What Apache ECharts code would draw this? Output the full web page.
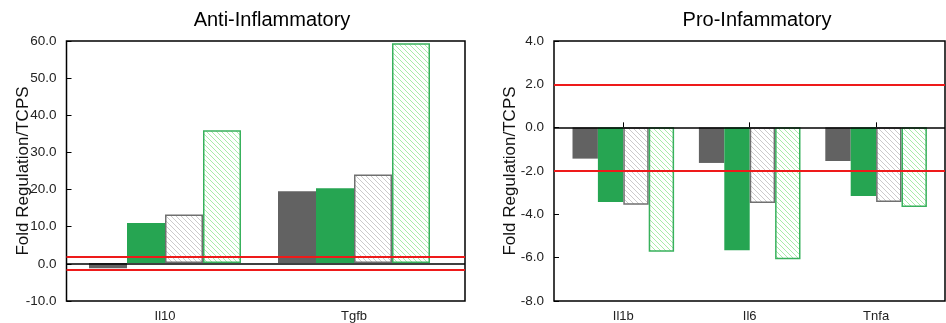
<!DOCTYPE html>
<html>
<head>
<meta charset="utf-8">
<script src="https://cdn.jsdelivr.net/npm/echarts@6/dist/echarts.min.js"></script>
<style>
  html, body { margin: 0; padding: 0; background: #fff; }
  #chart { width: 946px; height: 323px; }
</style>
</head>
<body>
<div id="chart"></div>
<script>
// Anti-inflammatory genes
const antiCategories = ['Il10', 'Tgfb'];
const antiDarkGrey   = [-1.4, 19.4];
const antiGreen      = [10.8, 20.2];
const antiGreyHatch  = [13.1, 23.9];
const antiGreenHatch = [35.9, 59.4];
const antiThresholds = [2.0, -1.6];

// Pro-inflammatory genes
const proCategories = ['Il1b', 'Il6', 'Tnfa'];
const proDarkGrey   = [-1.45, -1.65, -1.56];
const proGreen      = [-3.46, -5.69, -3.18];
const proGreyHatch  = [-3.59, -3.51, -3.46];
const proGreenHatch = [-5.77, -6.11, -3.69];
const proThresholds = [2.0, -2.0];

// Axis ranges and titles
const antiAxis = { min: -10, max: 60, step: 10 };
const proAxis  = { min: -8, max: 4, step: 2 };
const titles = ['Anti-Inflammatory', 'Pro-Infammatory'];
const yName = 'Fold Regulation/TCPS';

const FONT = '"Liberation Sans", Arial, sans-serif';

// Diagonal hatch fill ("\" direction) as a repeating canvas pattern
function hatch(lineColor, size, width) {
  const c = document.createElement('canvas');
  c.width = size; c.height = size;
  const g = c.getContext('2d');
  g.fillStyle = '#ffffff';
  g.fillRect(0, 0, size, size);
  g.strokeStyle = lineColor;
  g.lineWidth = width;
  g.beginPath();
  for (let k = -1; k <= 1; k++) {
    g.moveTo(k * size, 0);
    g.lineTo(k * size + size, size);
  }
  g.stroke();
  return { image: c, repeat: 'repeat' };
}

const styles = [
  { color: '#626262' },
  { color: '#26a552' },
  { color: hatch('#cbcbcb', 5, 1), borderColor: '#707070', borderWidth: 1.5 },
  { color: hatch('#a8eca9', 5, 1), borderColor: '#38b15c', borderWidth: 1.5 }
];

const chart = echarts.init(document.getElementById('chart'));

function frameY(gridIndex, r, gap) {
  return {
    gridIndex, type: 'value', min: r.min, max: r.max, interval: r.step,
    axisLine: { show: false },
    axisTick: { show: true, inside: true, length: 5, lineStyle: { color: '#000', width: 1 } },
    axisLabel: { color: '#222', fontSize: 13.5, fontFamily: FONT, margin: 10,
                 formatter: v => v.toFixed(1) },
    splitLine: { show: false },
    name: yName, nameLocation: 'middle', nameGap: gap, nameMoveOverlap: false,
    nameTextStyle: { fontSize: 17, color: '#111', fontFamily: FONT }
  };
}
function hiddenY(gridIndex, r) {
  return { gridIndex, type: 'value', min: r.min, max: r.max, interval: r.step, show: false };
}
function catX(gridIndex, data) {
  return {
    gridIndex, type: 'category', data,
    axisLine: { show: false },
    axisTick: { show: true, inside: true, length: 5, alignWithLabel: true,
                lineStyle: { color: '#000', width: 1 } },
    axisLabel: { color: '#222', fontSize: 13, fontFamily: FONT, margin: 10 },
    splitLine: { show: false }
  };
}
function bars(xi, yi, values, width) {
  return values.map((v, i) => ({
    type: 'bar', name: 'S' + (i + 1), xAxisIndex: xi, yAxisIndex: yi,
    data: v, barWidth: width, barGap: '0%', z: 2,
    itemStyle: styles[i], silent: true
  }));
}
function refLines(xi, yi, thresholds) {
  const lines = [{ yAxis: 0, lineStyle: { color: '#000', width: 1.5, type: 'solid' } }]
    .concat(thresholds.map(t => ({ yAxis: t, lineStyle: { color: '#ee1a1a', width: 2, type: 'solid' } })));
  return {
    type: 'line', xAxisIndex: xi, yAxisIndex: yi, data: [], z: 5, silent: true,
    markLine: { symbol: 'none', silent: true, label: { show: false }, animation: false, data: lines }
  };
}

const frame = { show: true, borderColor: '#000', borderWidth: 1.5, backgroundColor: 'transparent' };

chart.setOption({
  animation: false,
  title: [
    { text: titles[0], left: 267, top: 5, textAlign: 'center',
      textStyle: { fontSize: 20, fontWeight: 'normal', color: '#000', fontFamily: FONT } },
    { text: titles[1], left: 752, top: 5, textAlign: 'center',
      textStyle: { fontSize: 20, fontWeight: 'normal', color: '#000', fontFamily: FONT } }
  ],
  grid: [
    Object.assign({ left: 66.5, top: 41, width: 398.5, height: 260 }, frame),
    { left: 70.5, top: 41, width: 378, height: 260 },
    Object.assign({ left: 554, top: 41, width: 391, height: 260 }, frame),
    { left: 560.1, top: 41, width: 379.2, height: 260 }
  ],
  xAxis: [
    { gridIndex: 0, type: 'value', min: 0, max: 1, show: false },
    catX(1, antiCategories),
    { gridIndex: 2, type: 'value', min: 0, max: 1, show: false },
    catX(3, proCategories)
  ],
  yAxis: [
    frameY(0, antiAxis, 35),
    hiddenY(1, antiAxis),
    frameY(2, proAxis, 35),
    hiddenY(3, proAxis)
  ],
  series: [
    ...bars(1, 1, [antiDarkGrey, antiGreen, antiGreyHatch, antiGreenHatch], 38),
    refLines(0, 0, antiThresholds),
    ...bars(3, 3, [proDarkGrey, proGreen, proGreyHatch, proGreenHatch], 25.4),
    refLines(2, 2, proThresholds)
  ]
});
</script>
</body>
</html>
